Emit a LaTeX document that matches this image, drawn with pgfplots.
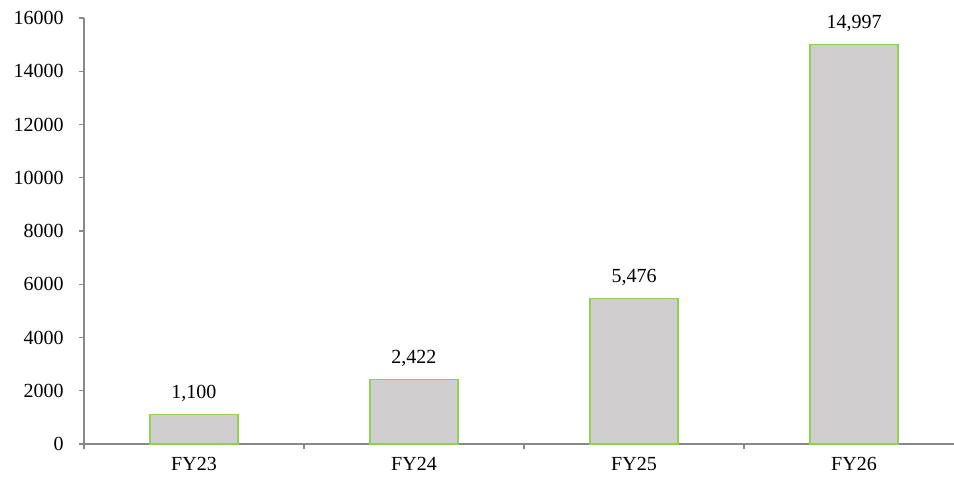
\documentclass[border=0pt]{standalone}
\usepackage{pgfplots}
\pgfplotsset{compat=1.18}
\usepackage{fontspec}
\setmainfont{Liberation Serif}
\definecolor{barfill}{HTML}{D0CECE}
\definecolor{baredge}{HTML}{92D050}
\definecolor{axgray}{HTML}{898989}
\newcommand{\bigf}{\fontsize{15pt}{18pt}\selectfont}
\begin{document}
\begin{tikzpicture}
\useasboundingbox (-63pt,-25.5pt) rectangle (652.5pt,333pt);
\begin{axis}[
  at={(0,0)}, anchor=south west,
  scale only axis,
  width=660pt, height=319.5pt,
  xmin=-0.5, xmax=3.5,
  ymin=0, ymax=16000,
  axis x line*=bottom, axis y line*=left,
  axis line style={axgray, line width=1pt},
  xtick={0,1,2,3},
  xticklabels={FY23,FY24,FY25,FY26},
  minor xtick={-0.5,0.5,1.5,2.5},
  major x tick style={draw=none},
  minor x tick style={axgray, line width=1pt},
  minor tick length=3.75pt,
  ytick={0,2000,...,16000},
  y tick style={axgray, line width=1pt},
  major tick length=3.75pt,
  tick align=outside,
  every tick label/.append style={font=\bigf, text=black},
  xticklabel style={yshift=-3pt},
  yticklabel={\bigf\pgfmathprintnumber[fixed,1000 sep={},assume math mode=true]{\tick}},
  yticklabel style={xshift=-8pt},
  scaled y ticks=false,
  ybar, bar width=66pt,
  nodes near coords={\bigf\pgfmathprintnumber[fixed,1000 sep={,},assume math mode=true]{\pgfplotspointmeta}},
  nodes near coords style={text=black, anchor=south, yshift=6pt},
  clip=false,
]
\addplot[fill=barfill, draw=baredge, line width=1pt] coordinates {(0,1100) (1,2422) (2,5476) (3,14997)};
\end{axis}
\end{tikzpicture}
\end{document}
